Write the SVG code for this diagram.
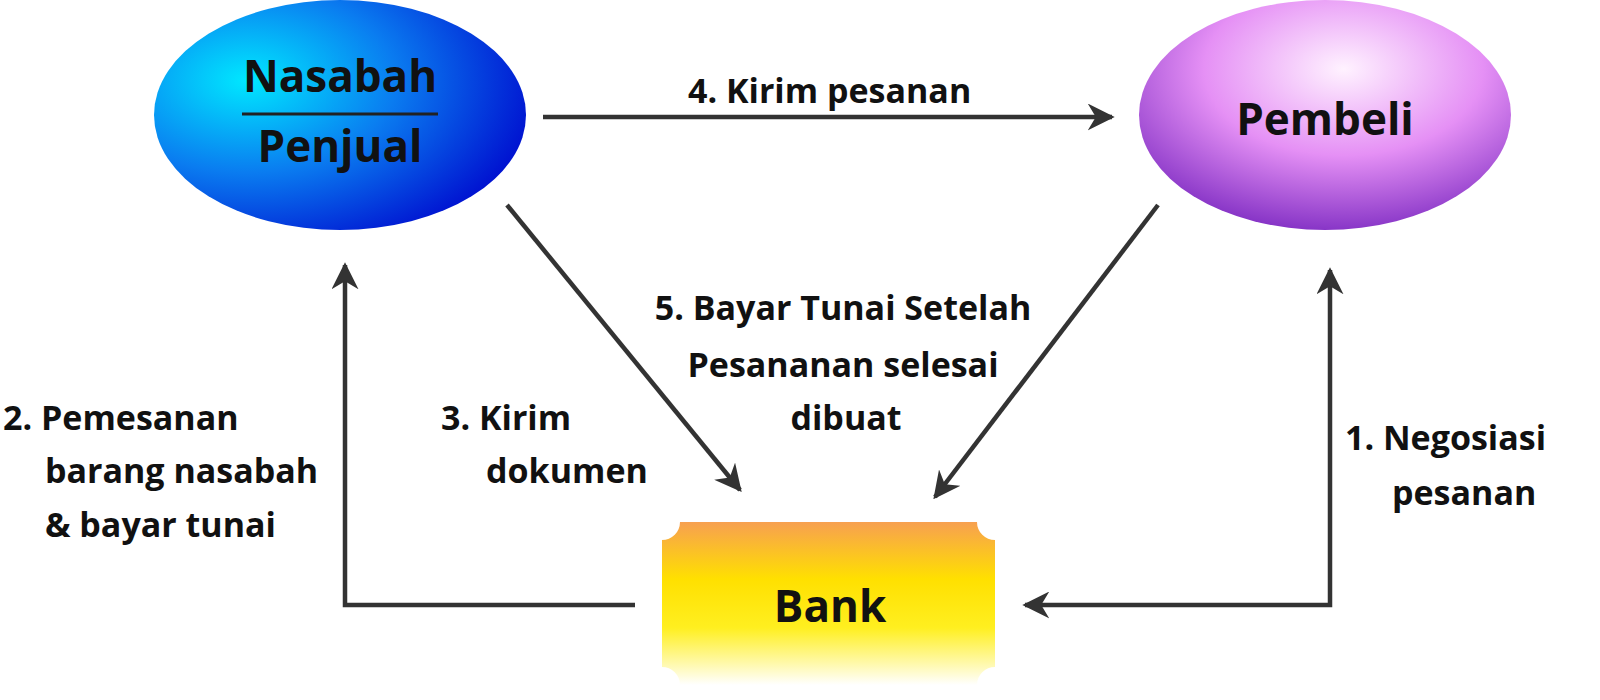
<svg xmlns="http://www.w3.org/2000/svg" width="1600" height="700" viewBox="0 0 1600 700">
<defs>
<radialGradient id="gb" cx="0.25" cy="0.35" r="0.8"><stop offset="0" stop-color="#00e8ff"/><stop offset="0.5" stop-color="#0a7cf0"/><stop offset="1" stop-color="#0010d0"/></radialGradient>
<radialGradient id="gp" cx="0.55" cy="0.3" r="0.75"><stop offset="0" stop-color="#fff2ff"/><stop offset="0.5" stop-color="#e590f5"/><stop offset="1" stop-color="#7a28c0"/></radialGradient>
<linearGradient id="gy" x1="0" y1="0" x2="0" y2="1"><stop offset="0" stop-color="#f7a050"/><stop offset="0.35" stop-color="#ffe000"/><stop offset="0.65" stop-color="#ffef20"/><stop offset="1" stop-color="#ffffff"/></linearGradient>
<marker id="ah" viewBox="0 0 10 10" refX="9" refY="5" markerWidth="6" markerHeight="6" orient="auto-start-reverse" markerUnits="strokeWidth"><path d="M0,0 L10,5 L0,10 L3,5 Z" fill="#333"/></marker>
<style>
.c{stroke:#333;stroke-width:4.5;fill:none;marker-end:url(#ah)}
.t{font-family:"Open Sans",sans-serif;font-weight:700;font-size:34px;fill:#111}
.n{font-family:"Open Sans",sans-serif;font-weight:700;font-size:44px;fill:#111;text-anchor:middle}
</style>
</defs>
<g id="nasabah"><ellipse cx="340" cy="115" rx="186" ry="115" fill="url(#gb)"/>
<text class="n" x="340" y="92">Nasabah</text><line x1="242" y1="114" x2="438" y2="114" stroke="#222" stroke-width="3"/><text class="n" x="340" y="162">Penjual</text></g>
<g id="pembeli"><ellipse cx="1325" cy="115" rx="186" ry="115" fill="url(#gp)"/><text class="n" x="1325" y="135">Pembeli</text></g>
<g id="bank"><path d="M680,522 H977 A18,18 0 0 0 995,540 V667 A18,18 0 0 0 977,685 H680 A18,18 0 0 0 662,667 V540 A18,18 0 0 0 680,522 Z" fill="url(#gy)"/><text class="n" x="830" y="622">Bank</text></g>
<g id="connectors">
<line class="c" x1="543" y1="117" x2="1112" y2="117"/>
<line class="c" x1="507" y1="205" x2="740" y2="490"/>
<line class="c" x1="1158" y1="205" x2="935" y2="497"/>
<polyline class="c" points="635,605 345,605 345,265"/>
<polyline class="c" points="1330,270 1330,605 1025,605" style="marker-start:url(#ah)"/>
</g>
<g id="labels">
<text class="t" x="688" y="103">4. Kirim pesanan</text>
<text class="t" x="843" y="320" text-anchor="middle">5. Bayar Tunai Setelah</text>
<text class="t" x="843" y="377" text-anchor="middle">Pesananan selesai</text>
<text class="t" x="846" y="430" text-anchor="middle">dibuat</text>
<text class="t" x="441" y="430">3. Kirim</text>
<text class="t" x="486" y="483">dokumen</text>
<text class="t" x="3" y="430">2. Pemesanan</text>
<text class="t" x="45" y="483">barang nasabah</text>
<text class="t" x="45" y="537">&amp; bayar tunai</text>
<text class="t" x="1345" y="450">1. Negosiasi</text>
<text class="t" x="1392" y="505">pesanan</text>
</g>
</svg>
